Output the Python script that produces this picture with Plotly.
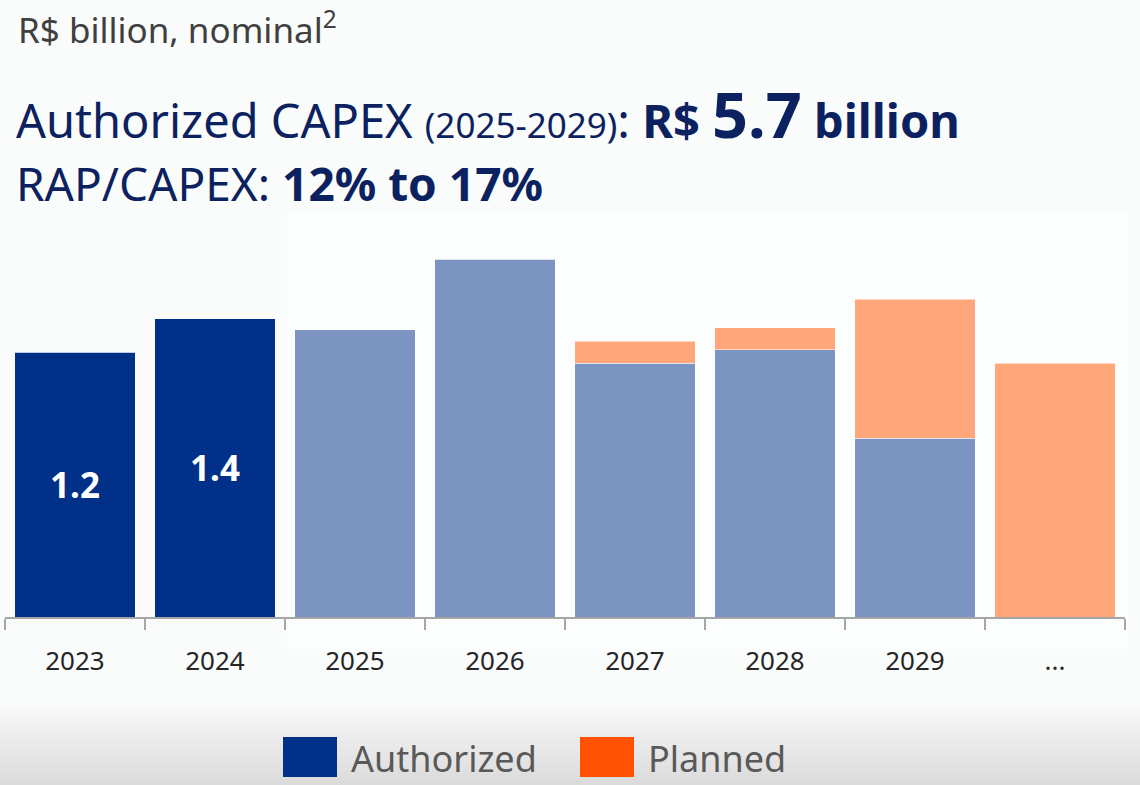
import plotly.graph_objects as go

categories = ["2023", "2024", "2025", "2026", "2027", "2028", "2029", "..."]
authorized = [1.20, 1.35, 1.30, 1.62, 1.15, 1.21, 0.81, 0]
planned = [0, 0, 0, 0, 0.10, 0.10, 0.63, 1.15]
authorized_labels = ["1.2", "1.4", "", "", "", "", "", ""]
authorized_colors = ["#003087", "#003087", "#7b94c2", "#7b94c2", "#7b94c2", "#7b94c2", "#7b94c2", "#7b94c2"]
planned_color = "#ffa77b"

W, H = 1140, 785
L, R, T, B = 5, 15, 200, 168
PW, PH = W - L - R, H - T - B


def px(x):
    return (x - L) / PW


def py(y):
    return (H - B - y) / PH


FONT = "Noto Sans"
NAVY = "#0c2260"

fig = go.Figure()
fig.add_trace(go.Bar(
    x=categories, y=authorized, name="Authorized",
    marker=dict(color=authorized_colors, line=dict(color="rgba(255,255,255,0.5)", width=1)),
    text=authorized_labels, textposition="inside", insidetextanchor="middle",
    textfont=dict(family=FONT, size=35, color="white", weight="bold"),
    textangle=0, hoverinfo="skip",
))
fig.add_trace(go.Bar(
    x=categories, y=planned, name="Planned",
    marker=dict(color=planned_color, line=dict(color="rgba(255,255,255,0.5)", width=1)),
    hoverinfo="skip",
))

shapes = []
# subtle lighter panel
shapes.append(dict(type="rect", xref="paper", yref="paper",
                   x0=px(287), x1=px(1128), y0=py(650), y1=py(212),
                   fillcolor="#fcfdfd", line=dict(width=0), layer="below"))
# bottom gradient
n = 16
for i in range(n):
    y0 = 705 + i * 5
    y1 = y0 + 5
    t = i / (n - 1)
    g = int(round(248 - t * (248 - 219)))
    shapes.append(dict(type="rect", xref="paper", yref="paper",
                       x0=px(0), x1=px(W), y0=py(y1), y1=py(y0),
                       fillcolor=f"rgb({g},{g},{g})", line=dict(width=0), layer="below"))
# legend swatches
shapes.append(dict(type="rect", xref="paper", yref="paper",
                   x0=px(283), x1=px(337), y0=py(777), y1=py(737),
                   fillcolor="#003087", line=dict(width=0)))
shapes.append(dict(type="rect", xref="paper", yref="paper",
                   x0=px(580), x1=px(634), y0=py(777), y1=py(737),
                   fillcolor="#ff5100", line=dict(width=0)))

annotations = [
    dict(text="R$ billion, nominal<sup>2</sup>", x=px(16), y=py(28), xanchor="left", yanchor="middle",
         font=dict(family=FONT, size=35, color="#404040")),
    dict(text="Authorized CAPEX <span style='font-size:35px'>(2025-2029)</span>: <b>R$ <span style='font-size:63px'>5.7</span> billion</b>",
         x=px(14), y=py(114), xanchor="left", yanchor="middle",
         font=dict(family=FONT, size=47, color=NAVY)),
    dict(text="RAP/CAPEX: <b>12% to 17%</b>",
         x=px(14), y=py(183), xanchor="left", yanchor="middle",
         font=dict(family=FONT, size=46, color=NAVY)),
    dict(text="Authorized", x=px(349), y=py(758), xanchor="left", yanchor="middle",
         font=dict(family=FONT, size=36, color="#595959")),
    dict(text="Planned", x=px(646), y=py(758), xanchor="left", yanchor="middle",
         font=dict(family=FONT, size=36, color="#595959")),
]
for a in annotations:
    a.update(xref="paper", yref="paper", showarrow=False)

fig.update_layout(
    width=W, height=H,
    margin=dict(l=L, r=R, t=T, b=B),
    barmode="stack", bargap=0.138,
    showlegend=False,
    paper_bgcolor="#fafbfb", plot_bgcolor="rgba(0,0,0,0)",
    shapes=shapes, annotations=annotations,
    xaxis=dict(showline=True, linecolor="#a6a6a6", linewidth=1.5,
               ticks="outside", ticklen=11, tickcolor="#a6a6a6", tickwidth=1.5,
               tickson="boundaries", showgrid=False,
               tickfont=dict(family=FONT, size=26, color="#262626"), ticklabelstandoff=20),
    yaxis=dict(visible=False, range=[0, PH / 220.8], fixedrange=True),
    font=dict(family=FONT),
)

fig.write_html("out.html", config={"displayModeBar": False},
               post_script="document.body.style.margin='0';document.body.style.overflow='hidden';")
